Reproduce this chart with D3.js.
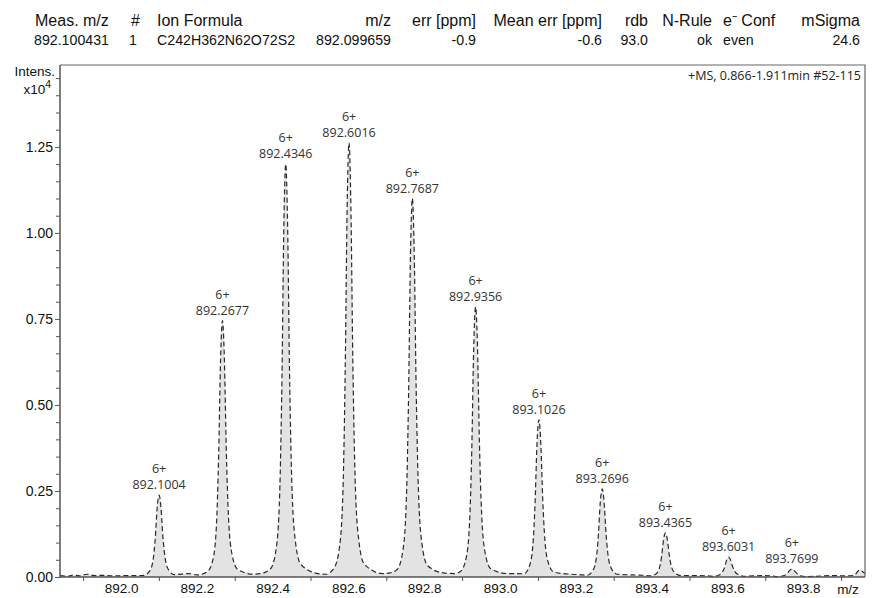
<!DOCTYPE html>
<html>
<head>
<meta charset="utf-8">
<script src="https://cdn.jsdelivr.net/npm/d3@7"></script>
<style>
  body { margin: 0; background: white; }
  svg { display: block; }
</style>
</head>
<body>
<div id="viz"></div>
<script>

const width = 874
const height = 598

// header table (formula match)
const headerLabels = ["Meas. m/z", "#", "Ion Formula", "m/z", "err [ppm]", "Mean err [ppm]", "rdb", "N-Rule", "e\u207B Conf", "mSigma"]
const headerValues = ["892.100431", "1", "C242H362N62O72S2", "892.099659", "-0.9", "-0.6", "93.0", "ok", "even", "24.6"]

// centroid peaks, intensity in x10^4
const peakMz = [892.1004, 892.2677, 892.4346, 892.6016, 892.7687, 892.9356, 893.1026, 893.2696, 893.4365, 893.6031, 893.7699]
const peakIntens = [0.238, 0.745, 1.200, 1.262, 1.100, 0.785, 0.457, 0.256, 0.128, 0.058, 0.023]
const peakCharge = ["6+", "6+", "6+", "6+", "6+", "6+", "6+", "6+", "6+", "6+", "6+"]

// profile read around each peak: offsets (m/z) and intensities per peak
const profileOffsets = [-0.04, -0.025, -0.016, -0.01, -0.005, 0, 0.005, 0.01, 0.016, 0.025, 0.04]
const profileRows = [
  [0.005, 0.017, 0.048, 0.114, 0.202, 0.238, 0.202, 0.119, 0.055, 0.021, 0.007],
  [0.015, 0.052, 0.149, 0.358, 0.633, 0.745, 0.633, 0.373, 0.171, 0.067, 0.022],
  [0.024, 0.084, 0.240, 0.576, 1.020, 1.200, 1.020, 0.600, 0.276, 0.108, 0.036],
  [0.025, 0.088, 0.252, 0.606, 1.073, 1.262, 1.073, 0.631, 0.290, 0.114, 0.038],
  [0.022, 0.077, 0.220, 0.528, 0.935, 1.100, 0.935, 0.550, 0.253, 0.099, 0.033],
  [0.016, 0.055, 0.157, 0.377, 0.667, 0.785, 0.667, 0.393, 0.181, 0.071, 0.024],
  [0.009, 0.032, 0.091, 0.219, 0.388, 0.457, 0.388, 0.229, 0.105, 0.041, 0.014],
  [0.005, 0.018, 0.051, 0.123, 0.218, 0.256, 0.218, 0.128, 0.059, 0.023, 0.008],
  [0.003, 0.009, 0.026, 0.061, 0.109, 0.128, 0.109, 0.064, 0.029, 0.012, 0.004],
  [0.002, 0.006, 0.015, 0.030, 0.050, 0.058, 0.050, 0.032, 0.017, 0.007, 0.002],
  [0.001, 0.003, 0.007, 0.013, 0.020, 0.023, 0.020, 0.014, 0.008, 0.003, 0.001]
]
// baseline noise between peaks
const baselineMz = [891.839, 891.86, 891.875, 891.89, 891.91, 891.93, 891.95, 891.98, 892.01, 892.04,
  892.18, 892.20, 892.35, 892.37, 892.52, 892.54, 892.69, 892.71, 892.85, 892.88,
  893.02, 893.05, 893.19, 893.22, 893.35, 893.38, 893.52, 893.55, 893.69, 893.72,
  893.85, 893.88, 893.91, 893.935, 893.948, 893.963]
const baselineIntens = [0.004, 0.002, 0.006, 0.003, 0.008, 0.004, 0.005, 0.003, 0.004, 0.004,
  0.010, 0.006, 0.008, 0.010, 0.010, 0.008, 0.010, 0.012, 0.012, 0.010,
  0.010, 0.010, 0.008, 0.006, 0.006, 0.005, 0.004, 0.003, 0.004, 0.003,
  0.003, 0.004, 0.003, 0.006, 0.020, 0.010]

const xTicks = [891.9, 892.1, 892.3, 892.5, 892.7, 892.9, 893.1, 893.3, 893.5, 893.7, 893.9]
const xLabels = [892.0, 892.2, 892.4, 892.6, 892.8, 893.0, 893.2, 893.4, 893.6, 893.8]
const yMajor = [0, 0.25, 0.5, 0.75, 1.0, 1.25]
const yMinor = [0.05, 0.1, 0.15, 0.2, 0.3, 0.35, 0.4, 0.45, 0.55, 0.6, 0.65, 0.7, 0.8, 0.85, 0.9, 0.95, 1.05, 1.1, 1.15, 1.2, 1.3, 1.35, 1.4, 1.45]

const plot = {left: 60, right: 865, top: 65, bottom: 577}
const axisColor = "#555"
const textFont = "'Liberation Sans', Arial, Helvetica, sans-serif"
const labelFont = "'Open Sans', 'Noto Sans', sans-serif"

const svg = d3.select("#viz").append("svg").attr("width", width).attr("height", height)

// ---- header table
const colX = [35, 131, 157, 391, 476, 602, 648, 712, 723, 860]
const colAnchor = ["start", "start", "start", "end", "end", "end", "end", "end", "start", "end"]
const valX = [34, 133, 157, 391, 476, 602, 648, 712, 723, 860]
const valAnchor = ["start", "middle", "start", "end", "end", "end", "end", "end", "start", "end"]

const headerGroup = svg.append("g").attr("id", "headerGroup")
headerGroup.selectAll("text.head").data(headerLabels).enter().append("text")
    .attr("class", "head").attr("x", (d,i)=>colX[i]).attr("y", 26)
    .attr("text-anchor", (d,i)=>colAnchor[i])
    .attr("font-family", textFont).attr("font-size", 16).attr("fill", "#111").text(d=>d)
headerGroup.selectAll("text.val").data(headerValues).enter().append("text")
    .attr("class", "val").attr("x", (d,i)=>valX[i]).attr("y", 45)
    .attr("text-anchor", (d,i)=>valAnchor[i])
    .attr("font-family", textFont).attr("font-size", 14.2).attr("fill", "#111").text(d=>d)

// ---- scales
const xScale = d3.scaleLinear().domain([891.839, 893.963]).range([plot.left, plot.right])
const yScale = d3.scaleLinear().domain([0, 1.488]).range([plot.bottom, plot.top])

// build profile from the rows + baseline, sorted by m/z
let profile = []
peakMz.forEach((mz, i)=>{
    profileOffsets.forEach((off, j)=>profile.push([mz + off, profileRows[i][j]]))
})
baselineMz.forEach((mz, i)=>profile.push([mz, baselineIntens[i]]))
profile.sort((a, b)=>a[0]-b[0])

const chartGroup = svg.append("g").attr("id", "chartGroup")

const area = d3.area().x(d=>xScale(d[0])).y0(yScale(0)).y1(d=>yScale(d[1])).curve(d3.curveMonotoneX)
const line = d3.line().x(d=>xScale(d[0])).y(d=>yScale(d[1])).curve(d3.curveMonotoneX)

chartGroup.append("path").attr("d", area(profile)).attr("fill", "#e3e3e3").attr("stroke", "none")
chartGroup.append("path").attr("d", line(profile)).attr("fill", "none")
    .attr("stroke", "#2a2a2a").attr("stroke-width", 1.2).attr("stroke-dasharray", "5,3")

// frame (top + right)
svg.append("path")
    .attr("d", `M${plot.left},${plot.top} H${plot.right} V${plot.bottom}`)
    .attr("fill", "none").attr("stroke", "#666").attr("stroke-width", 1.2)

// ---- axes
const yAxisMinor = d3.axisLeft(yScale).tickValues(yMinor).tickSize(4).tickFormat("")
const yAxisMajor = d3.axisLeft(yScale).tickValues(yMajor).tickSize(5).tickPadding(2).tickFormat(d3.format(".2f"))
const yAxisGroup = svg.append("g").attr("transform", `translate(${plot.left},0)`)
yAxisGroup.append("g").call(yAxisMinor)
yAxisGroup.append("g").call(yAxisMajor)
yAxisGroup.selectAll(".domain").remove()
yAxisGroup.selectAll("line").attr("stroke", axisColor).attr("stroke-width", 1)
yAxisGroup.selectAll("text").attr("font-family", textFont).attr("font-size", 14).attr("fill", "#111")
svg.append("line").attr("x1", plot.left).attr("x2", plot.left).attr("y1", plot.top).attr("y2", plot.bottom)
    .attr("stroke", axisColor).attr("stroke-width", 1.5)

const xAxisTicks = d3.axisBottom(xScale).tickValues(xTicks).tickSize(4).tickFormat("")
const xAxisLabels = d3.axisBottom(xScale).tickValues(xLabels).tickSize(0).tickPadding(6).tickFormat(d3.format(".1f"))
const xAxisGroup = svg.append("g").attr("transform", `translate(0,${plot.bottom})`)
xAxisGroup.append("g").call(xAxisTicks)
xAxisGroup.append("g").call(xAxisLabels)
xAxisGroup.selectAll(".domain").remove()
xAxisGroup.selectAll("line").attr("stroke", axisColor).attr("stroke-width", 1)
xAxisGroup.selectAll("text").attr("font-family", textFont).attr("font-size", 13.5).attr("fill", "#111")
svg.append("line").attr("x1", plot.left).attr("x2", plot.right).attr("y1", plot.bottom).attr("y2", plot.bottom)
    .attr("stroke", axisColor).attr("stroke-width", 1.5)

svg.append("text").attr("x", 848).attr("y", 594).attr("text-anchor", "middle")
    .attr("font-family", textFont).attr("font-size", 13.5).attr("fill", "#111").text("m/z")

// y axis title
const yTitle = svg.append("g").attr("font-family", textFont).attr("font-size", 13.5).attr("fill", "#111")
yTitle.append("text").attr("x", 55).attr("y", 76).attr("text-anchor", "end").text("Intens.")
const x10 = yTitle.append("text").attr("x", 51).attr("y", 94).attr("text-anchor", "end")
x10.append("tspan").text("x10")
x10.append("tspan").attr("dy", -6).attr("font-size", 10.5).text("4")

// scan info
svg.append("text").attr("x", 861).attr("y", 80).attr("text-anchor", "end")
    .attr("font-family", labelFont).attr("font-size", 12.5).attr("fill", "#222")
    .text("+MS, 0.866-1.911min #52-115")

// ---- peak annotations
const annoGroup = svg.append("g").attr("id", "annoGroup")
    .attr("font-family", labelFont).attr("font-size", 12.5).attr("fill", "#333").attr("text-anchor", "middle")
annoGroup.selectAll("text.mz").data(peakMz).enter().append("text").attr("class", "mz")
    .attr("x", d=>xScale(d)).attr("y", (d,i)=>yScale(peakIntens[i]) - 6).text(d=>d.toFixed(4))
annoGroup.selectAll("text.z").data(peakMz).enter().append("text").attr("class", "z")
    .attr("x", d=>xScale(d)).attr("y", (d,i)=>yScale(peakIntens[i]) - 22).text((d,i)=>peakCharge[i])

</script>
</body>
</html>
